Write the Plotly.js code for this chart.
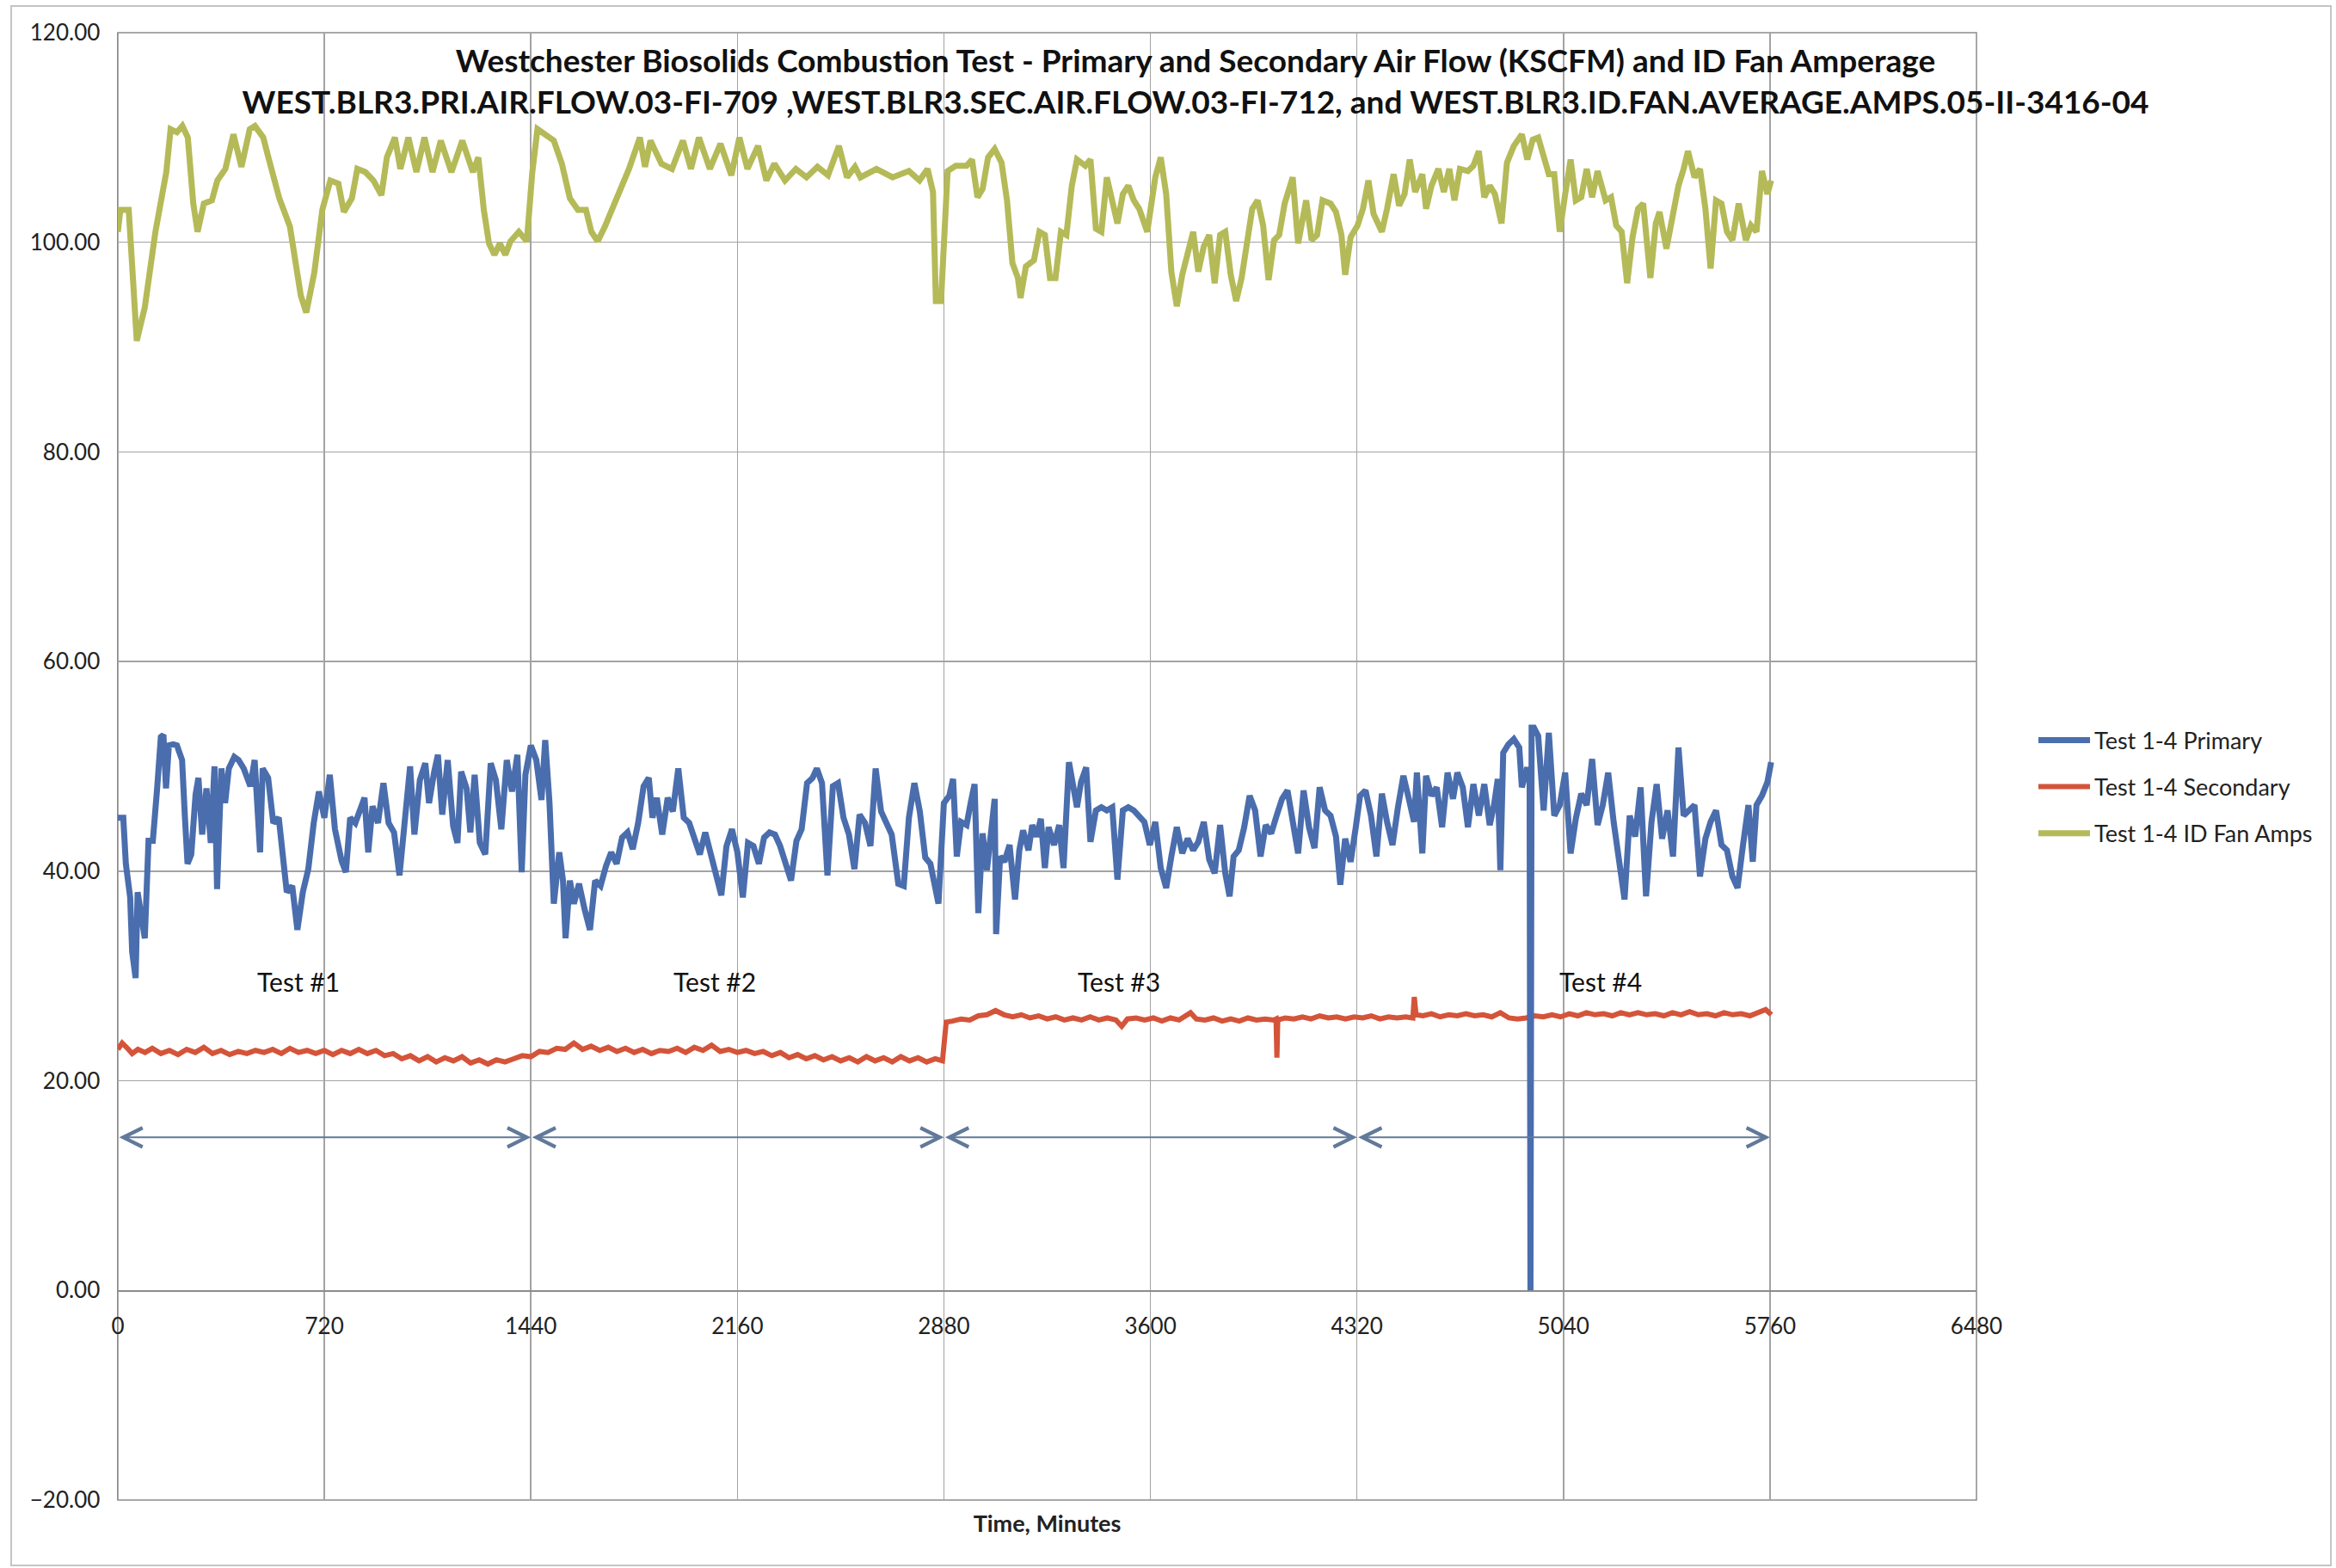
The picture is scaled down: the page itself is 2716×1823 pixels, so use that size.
<!DOCTYPE html>
<html>
<head>
<meta charset="utf-8">
<script src="https://cdn.plot.ly/plotly-3.0.1.min.js"></script>
<style>html,body{margin:0;padding:0;background:#fff;}#chart{width:2716px;height:1823px;}</style>
</head>
<body>
<div id="chart"></div>
<script>
// ---- Data ----
const seriesNames = ["Test 1-4 Primary", "Test 1-4 Secondary", "Test 1-4 ID Fan Amps"];

const primaryMinutes = [0,6,19,28,43,50,62,69,80,94,107,122,137,150,159,168,178,193,206,224,234,243,256,271,281,294,309,324,337,346,361,374,387,406,421,439,462,477,496,505,524,542,561,574,589,608,626,645,664,683,701,720,739,757,780,795,810,828,847,860,873,888,907,926,944,963,982,1000,1019,1034,1053,1072,1085,1103,1116,1131,1150,1169,1184,1197,1216,1229,1244,1262,1281,1300,1318,1337,1356,1374,1393,1408,1421,1440,1459,1477,1490,1505,1520,1539,1552,1561,1576,1590,1608,1627,1646,1664,1683,1702,1720,1739,1758,1777,1795,1814,1833,1851,1864,1879,1898,1917,1935,1954,1973,1992,2010,2029,2048,2066,2085,2104,2122,2141,2160,2179,2197,2216,2235,2253,2272,2291,2309,2328,2347,2366,2384,2403,2422,2437,2455,2474,2493,2511,2530,2549,2568,2586,2605,2624,2642,2661,2680,2698,2721,2740,2758,2777,2796,2815,2833,2861,2880,2899,2912,2925,2940,2959,2974,2987,3000,3015,3030,3044,3057,3062,3076,3091,3109,3128,3143,3156,3175,3188,3203,3218,3232,3245,3264,3282,3297,3316,3331,3344,3358,3376,3391,3410,3429,3448,3467,3485,3504,3523,3542,3561,3579,3598,3617,3636,3655,3673,3692,3711,3730,3749,3767,3786,3805,3824,3843,3861,3876,3890,3908,3927,3946,3965,3984,4002,4021,4040,4059,4078,4096,4115,4134,4153,4172,4190,4209,4228,4247,4262,4279,4298,4316,4331,4350,4369,4388,4407,4425,4444,4463,4482,4501,4519,4529,4548,4561,4580,4598,4617,4636,4655,4670,4689,4707,4726,4745,4764,4783,4798,4811,4820,4830,4848,4867,4886,4895,4914,4922,4925,4929,4937,4952,4971,4989,5008,5027,5046,5065,5083,5102,5121,5140,5159,5177,5196,5215,5234,5253,5271,5290,5309,5328,5347,5365,5384,5403,5422,5441,5459,5478,5497,5516,5535,5553,5572,5591,5610,5629,5647,5666,5685,5700,5713,5732,5751,5764];
const primaryKscfm = [45.1,45.1,45.1,40.7,37.5,32.3,29.8,38.0,36.4,33.6,42.9,42.9,47.9,52.8,53.0,47.9,52.0,52.1,52.0,50.6,45.1,40.7,41.6,47.3,48.9,43.5,47.9,42.7,50.0,38.3,49.8,46.5,49.8,50.9,50.6,49.8,48.1,50.6,41.8,49.8,48.9,44.6,45.1,41.3,38.0,38.6,34.4,38.0,40.2,44.6,47.6,45.1,49.2,44.0,41.0,39.9,45.1,44.6,46.2,47.0,41.8,46.2,44.6,48.4,44.6,43.7,39.6,44.6,50.0,43.5,48.7,50.3,46.5,49.5,51.1,45.4,50.6,44.3,42.7,49.5,47.9,43.7,49.2,42.7,41.6,50.3,48.7,44.0,50.6,47.6,51.1,39.9,49.2,52.0,50.6,46.8,52.5,46.5,36.9,41.8,39.1,33.6,39.1,36.9,38.8,36.4,34.4,39.1,38.6,40.5,41.8,40.7,43.2,43.7,42.1,44.6,48.1,48.9,45.1,47.0,43.5,47.0,45.7,49.8,45.1,44.6,42.9,41.6,43.7,41.8,39.6,37.7,42.4,44.0,41.8,37.5,42.7,42.4,40.7,43.2,43.7,43.5,42.4,40.5,39.1,42.9,44.0,48.4,48.9,49.8,48.4,39.6,48.1,48.4,45.1,43.5,40.2,45.4,44.6,42.4,49.8,45.7,44.6,43.5,38.8,38.6,45.1,48.4,45.7,41.3,40.7,36.9,46.5,47.2,48.8,41.4,44.7,44.4,46.6,48.3,36.0,43.6,40.1,43.1,46.9,34.0,41.4,40.9,42.5,37.3,42.0,43.9,42.0,44.4,43.3,45.0,40.3,44.2,42.5,44.4,40.3,50.4,48.3,46.1,48.5,49.9,42.8,45.8,46.1,45.8,46.1,39.2,45.8,46.1,45.8,45.3,44.7,42.5,44.7,40.3,38.4,41.4,44.2,41.7,43.1,42.0,42.8,44.7,41.1,39.8,44.4,39.8,37.6,41.4,42.0,44.2,47.2,45.8,41.4,44.4,43.6,45.3,46.9,47.7,44.7,41.7,47.7,44.2,42.2,48.0,45.8,45.3,43.3,38.7,43.1,40.9,44.2,47.2,47.7,45.3,41.4,47.4,44.7,42.5,46.1,49.1,46.9,44.7,49.4,41.7,49.1,47.2,48.0,44.2,49.4,46.9,49.4,48.0,44.2,48.3,45.3,48.3,44.4,46.3,48.8,40.1,51.3,52.1,52.6,51.8,48.0,49.9,48.5,0.0,53.7,53.7,52.9,45.8,53.2,45.3,46.3,49.4,41.7,45.0,47.4,46.3,50.7,44.4,46.3,49.4,44.7,41.4,37.3,45.3,43.3,48.0,37.6,44.7,48.3,43.1,45.8,41.4,51.8,45.3,45.8,46.3,39.5,43.1,44.7,45.8,42.5,42.0,39.5,38.4,42.5,46.3,40.9,46.3,47.2,48.5,50.4];

const secondaryMinutes = [0,15,30,50,70,95,120,150,180,210,240,270,300,330,360,390,420,450,480,510,540,570,600,630,660,690,720,750,780,810,840,870,900,930,960,990,1020,1050,1080,1110,1140,1170,1200,1230,1260,1290,1320,1350,1380,1410,1440,1470,1500,1530,1560,1590,1620,1650,1680,1710,1740,1770,1800,1830,1860,1890,1920,1950,1980,2010,2040,2070,2100,2130,2160,2190,2220,2250,2280,2310,2340,2370,2400,2430,2460,2490,2520,2550,2580,2610,2640,2670,2700,2730,2760,2790,2820,2850,2875,2888,2910,2940,2970,3000,3030,3060,3090,3120,3150,3180,3210,3240,3270,3300,3330,3360,3390,3420,3450,3480,3500,3520,3550,3580,3610,3640,3670,3700,3740,3760,3790,3820,3850,3880,3910,3940,3970,4000,4030,4038,4041,4044,4070,4100,4130,4160,4190,4220,4250,4280,4310,4340,4370,4400,4430,4460,4490,4515,4520,4526,4550,4580,4610,4640,4670,4700,4730,4760,4790,4820,4850,4880,4910,4940,4970,5000,5030,5060,5090,5120,5150,5180,5210,5240,5270,5300,5330,5360,5390,5420,5450,5480,5510,5540,5570,5600,5630,5660,5690,5720,5745,5765];
const secondaryKscfm = [23.0,23.6,23.2,22.6,23.0,22.7,23.1,22.6,22.9,22.5,23.0,22.7,23.2,22.6,22.9,22.5,22.8,22.6,22.9,22.7,23.0,22.6,23.1,22.7,22.9,22.6,22.9,22.5,22.9,22.6,23.0,22.6,22.9,22.4,22.6,22.1,22.4,21.9,22.3,21.8,22.2,21.9,22.3,21.7,22.0,21.6,22.0,21.8,22.1,22.4,22.3,22.8,22.7,23.1,23.0,23.6,23.0,23.3,22.9,23.2,22.8,23.1,22.7,23.0,22.6,22.9,22.8,23.1,22.7,23.2,22.9,23.4,22.8,23.0,22.7,22.9,22.6,22.8,22.4,22.7,22.2,22.5,22.1,22.4,22.0,22.3,21.9,22.2,21.8,22.3,21.9,22.2,21.8,22.3,21.9,22.2,21.8,22.1,21.9,25.6,25.7,25.9,25.8,26.2,26.3,26.7,26.3,26.1,26.3,26.0,26.2,25.9,26.1,25.8,26.0,25.8,26.1,25.8,26.0,25.8,25.2,25.9,26.0,25.8,26.0,25.7,26.0,25.8,26.5,25.9,25.8,26.0,25.7,25.9,25.7,26.0,25.8,25.9,25.8,25.9,22.2,25.8,26.0,25.9,26.1,25.9,26.2,26.0,26.1,25.9,26.1,26.0,26.2,25.9,26.1,26.0,26.1,26.0,28.0,26.3,26.2,26.4,26.1,26.3,26.2,26.4,26.2,26.3,26.1,26.5,26.0,25.9,26.0,26.2,26.1,26.3,26.1,26.4,26.2,26.5,26.3,26.4,26.2,26.5,26.3,26.5,26.3,26.4,26.2,26.5,26.3,26.6,26.3,26.4,26.2,26.5,26.3,26.4,26.2,26.5,26.8,26.3];

const fanMinutes = [0,9,38,66,94,131,169,184,206,225,244,263,278,300,328,347,375,403,431,460,478,507,525,563,600,638,657,685,713,741,769,788,816,835,863,891,919,938,966,985,1013,1041,1069,1097,1126,1163,1201,1238,1257,1276,1294,1313,1332,1351,1369,1398,1426,1445,1463,1491,1520,1548,1576,1604,1632,1651,1673,1698,1726,1754,1782,1820,1838,1857,1895,1932,1970,1998,2026,2064,2101,2139,2167,2195,2232,2261,2289,2326,2364,2401,2439,2476,2514,2542,2570,2589,2645,2701,2758,2795,2823,2842,2852,2870,2885,2893,2921,2959,2978,2997,3015,3034,3057,3081,3100,3119,3138,3147,3166,3194,3213,3232,3250,3269,3288,3307,3326,3344,3373,3391,3410,3429,3448,3467,3485,3504,3523,3542,3561,3589,3617,3636,3655,3673,3692,3711,3730,3749,3767,3786,3805,3824,3843,3861,3880,3899,3918,3937,3955,3974,3993,4012,4031,4049,4068,4096,4115,4143,4162,4181,4200,4228,4247,4266,4279,4298,4322,4341,4360,4378,4407,4425,4448,4467,4486,4504,4523,4548,4561,4580,4604,4623,4642,4660,4679,4707,4726,4745,4764,4783,4801,4824,4843,4867,4895,4914,4933,4952,4971,4989,5008,5027,5046,5065,5083,5102,5121,5140,5159,5187,5206,5224,5243,5262,5281,5300,5318,5343,5362,5375,5399,5418,5441,5459,5474,5497,5516,5535,5553,5572,5591,5610,5629,5651,5676,5694,5713,5732,5751,5764];
const fanAmps = [101.0,103.1,103.1,90.6,93.8,101.0,106.7,110.8,110.5,111.1,110.0,103.7,101.0,103.7,104.0,105.9,107.0,110.3,107.2,110.8,111.1,110.0,108.1,104.2,101.5,94.9,93.3,97.1,103.1,105.9,105.6,102.9,104.2,107.0,106.7,105.9,104.5,108.1,110.0,107.0,110.0,106.7,110.0,106.7,109.7,106.7,109.7,106.7,108.1,103.1,99.9,98.8,99.9,98.8,100.1,101.0,100.1,106.7,110.8,110.3,109.7,107.5,104.2,103.1,103.1,101.0,100.1,101.5,103.4,105.3,107.0,110.0,107.2,109.7,107.5,107.0,109.7,107.0,110.0,107.0,109.4,106.4,110.0,107.0,109.2,105.9,107.5,105.9,107.0,106.2,107.2,106.4,109.2,106.2,107.2,106.2,107.0,106.2,106.8,105.9,107.0,104.8,94.4,94.4,101.0,106.8,107.3,107.3,107.9,104.3,105.1,108.1,108.9,107.6,104.0,98.0,96.6,94.7,97.7,98.3,101.0,100.7,96.6,96.6,101.0,100.7,105.4,107.9,107.3,107.9,101.3,101.0,106.2,104.0,101.8,104.6,105.4,104.0,103.2,101.0,106.2,108.1,104.6,97.2,93.9,96.9,98.8,101.0,97.2,99.6,100.7,96.1,100.7,101.0,96.9,94.4,96.6,100.5,103.2,104.0,101.6,96.4,100.2,100.7,103.7,106.2,99.9,104.0,100.2,100.7,104.0,103.7,102.9,100.7,96.9,100.5,101.6,103.2,105.9,102.7,101.0,103.2,106.5,103.5,104.6,107.9,104.8,106.5,103.2,105.4,107.0,104.8,107.0,104.0,107.0,106.8,107.3,108.7,104.3,105.4,104.6,101.8,107.6,109.2,110.3,107.9,109.8,110.0,108.1,106.5,106.5,101.0,104.6,107.9,104.0,104.3,107.0,104.3,106.8,104.0,104.3,101.6,101.0,96.1,100.5,103.2,103.7,96.6,101.8,102.9,99.4,102.1,105.4,107.0,108.7,106.2,107.0,103.2,97.5,104.0,103.7,101.0,100.2,103.7,100.2,101.6,101.0,106.8,104.6,105.9];

const xTickMinutes = [0, 720, 1440, 2160, 2880, 3600, 4320, 5040, 5760, 6480];
const yTickValues = [-20, 0, 20, 40, 60, 80, 100, 120];
const testBoundaries = [0, 1440, 2880, 4320, 5760];
const testNames = ["Test #1", "Test #2", "Test #3", "Test #4"];
const testLabelMinutes = [630, 2080, 3490, 5170];
const testLabelLevel = 29.5;
const testArrowLevel = 14.6;

// ---- Styles ----
const FONT = 'Lato, "Open Sans", "DejaVu Sans", sans-serif';
const colors = {primary: "#4A6DAD", secondary: "#D4543A", fan: "#B5BA58"};
const gridColor = "#a3a3a3";

const traces = [
  {x: secondaryMinutes, y: secondaryKscfm, name: seriesNames[1], type: "scatter", mode: "lines",
   line: {color: colors.secondary, width: 6}, legendgroup: "s", legendrank: 2},
  {x: primaryMinutes, y: primaryKscfm, name: seriesNames[0], type: "scatter", mode: "lines",
   line: {color: colors.primary, width: 7}, legendgroup: "p", legendrank: 1},
  {x: fanMinutes, y: fanAmps, name: seriesNames[2], type: "scatter", mode: "lines",
   line: {color: colors.fan, width: 7}, legendgroup: "f", legendrank: 3}
];

const annotations = [];
testNames.forEach((t, i) => {
  annotations.push({x: testLabelMinutes[i], y: testLabelLevel, xref: "x", yref: "y", text: t,
    showarrow: false, font: {family: FONT, size: 30, color: "#111"}});
});
for (let i = 0; i < testBoundaries.length - 1; i++) {
  annotations.push({x: testBoundaries[i + 1], y: testArrowLevel, ax: testBoundaries[i], ay: testArrowLevel,
    xref: "x", yref: "y", axref: "x", ayref: "y", text: "", showarrow: true,
    arrowside: "end+start", arrowhead: 5, arrowsize: 2.2, arrowwidth: 2, arrowcolor: "#61799a",
    standoff: 0, startstandoff: 0});
}

const layout = {
  width: 2716, height: 1823,
  paper_bgcolor: "#ffffff", plot_bgcolor: "#ffffff",
  margin: {l: 137, r: 418, t: 38, b: 79},
  font: {family: FONT, size: 26, color: "#222"},
  title: {
    text: "Westchester Biosolids Combustion Test - Primary and Secondary Air Flow (KSCFM) and ID Fan Amperage<br>WEST.BLR3.PRI.AIR.FLOW.03-FI-709 ,WEST.BLR3.SEC.AIR.FLOW.03-FI-712, and WEST.BLR3.ID.FAN.AVERAGE.AMPS.05-II-3416-04",
    font: {family: FONT, size: 37, color: "#111", weight: "bold"},
    x: 0.5118, xanchor: "center", xref: "container",
    y: 0.954, yanchor: "top", yref: "container"
  },
  xaxis: {
    range: [0, 6480], tickvals: xTickMinutes, ticktext: xTickMinutes.map(String),
    showgrid: true, gridcolor: gridColor, gridwidth: 1.5,
    zeroline: false, showline: true, linecolor: "#8c8c8c", linewidth: 1.5,
    anchor: "free", position: 20 / 140, ticks: "", ticklabelstandoff: 18,
    tickfont: {family: FONT, size: 26, color: "#222"},
    title: {text: "Time, Minutes", font: {family: FONT, size: 27, color: "#222", weight: "bold"}, standoff: 206}
  },
  yaxis: {
    range: [-20, 120], tickvals: yTickValues, tickformat: ".2f",
    showgrid: true, gridcolor: gridColor, gridwidth: 1.5,
    zeroline: false, showline: true, linecolor: "#8c8c8c", linewidth: 1.5,
    ticks: "", ticklabelstandoff: 14,
    tickfont: {family: FONT, size: 26, color: "#222"}
  },
  legend: {
    x: 1.031, xanchor: "left", y: 0.486, yanchor: "middle",
    font: {family: FONT, size: 27, color: "#222"},
    bgcolor: "rgba(0,0,0,0)", borderwidth: 0, tracegroupgap: 16, itemwidth: 60, traceorder: "grouped"
  },
  showlegend: true,
  annotations: annotations,
  shapes: [
    {type: "rect", xref: "paper", yref: "paper", x0: 0, x1: 1, y0: 0, y1: 1,
     line: {color: "#8c8c8c", width: 1.5}, fillcolor: "rgba(0,0,0,0)", layer: "below"},
    {type: "rect", xref: "paper", yref: "paper", x0: -0.0574, x1: 1.1907, y0: -0.0445, y1: 1.0182,
     line: {color: "#c4c4c4", width: 2}, fillcolor: "rgba(0,0,0,0)"}
  ],
  hovermode: false
};

Plotly.newPlot("chart", traces, layout, {displayModeBar: false, staticPlot: true});
</script>
</body>
</html>
